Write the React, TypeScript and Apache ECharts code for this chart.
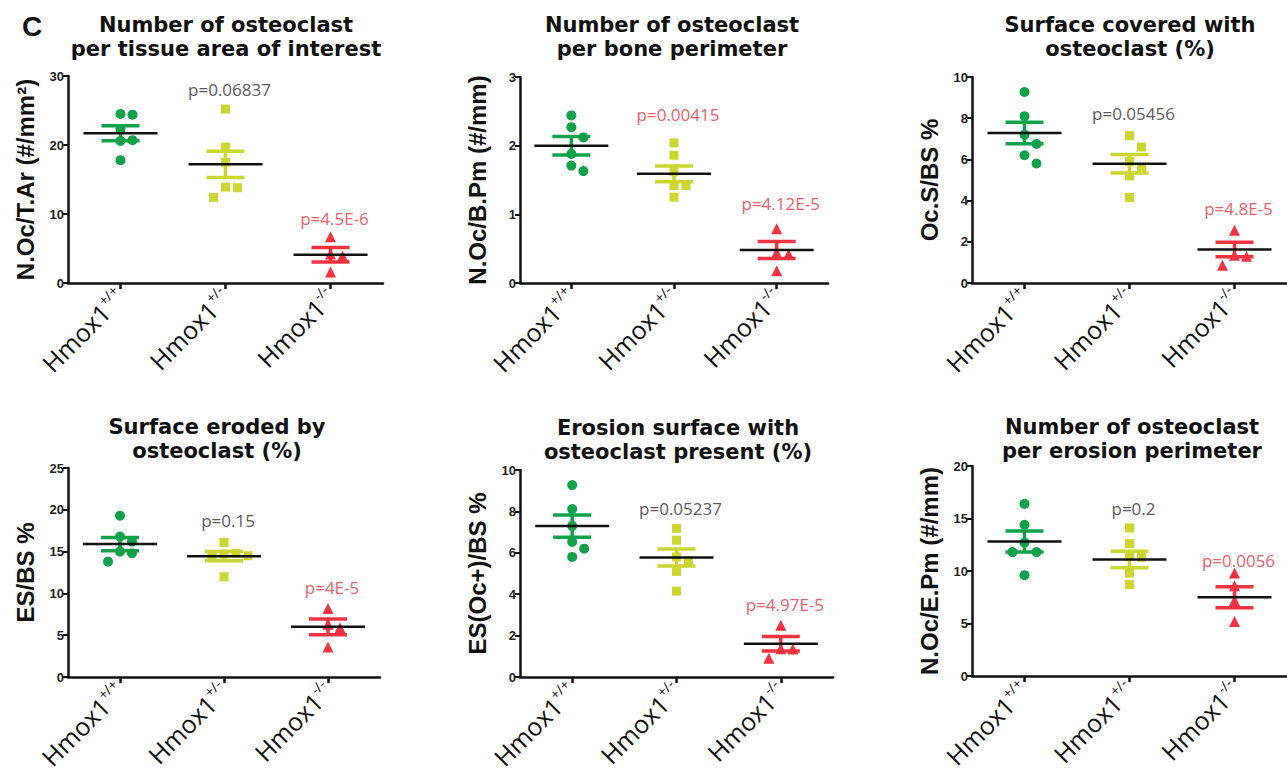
import React, { useEffect, useRef } from 'react';
import * as echarts from 'echarts';

// ---------- data ----------
const genotypes = ['+/+', '+/-', '-/-'];

// Panel 1: N.Oc/T.Ar
const nocTarWT = [24.5, 24.4, 22.3, 20.7, 20.6, 17.8];
const nocTarHet = [25.2, 19.7, 17.5, 13.9, 13.8, 12.4];
const nocTarKO = [6.7, 4.2, 3.9, 1.6];
const nocTarMean = [21.7, 17.2, 4.1];
const nocTarSem = [1.1, 1.9, 1.05];
const nocTarP = [0.06837, 4.5e-6];
const nocTarPAt = [28, 9.4];

// Panel 2: N.Oc/B.Pm
const nocBpmWT = [2.44, 2.27, 2.12, 1.88, 1.71, 1.63];
const nocBpmHet = [2.04, 1.86, 1.62, 1.42, 1.42, 1.25];
const nocBpmKO = [0.79, 0.44, 0.42, 0.18];
const nocBpmMean = [2.0, 1.59, 0.48];
const nocBpmSem = [0.135, 0.115, 0.125];
const nocBpmP = [0.00415, 4.12e-5];
const nocBpmPAt = [2.45, 1.16];

// Panel 3: Oc.S/BS
const ocsWT = [9.27, 8.1, 7.2, 6.75, 6.2, 5.8];
const ocsHet = [7.15, 6.6, 5.9, 5.6, 5.2, 4.15];
const ocsKO = [2.56, 1.35, 1.3, 0.86];
const ocsMean = [7.28, 5.79, 1.63];
const ocsSem = [0.52, 0.45, 0.35];
const ocsP = [0.05456, 4.8e-5];
const ocsPAt = [8.25, 3.64];

// Panel 4: ES/BS
const esWT = [19.3, 16.8, 16.2, 15.0, 14.8, 13.8];
const esHet = [16.1, 14.8, 14.7, 14.6, 14.5, 12.0];
const esKO = [8.2, 6.3, 5.9, 3.6];
const esMean = [15.9, 14.45, 6.0];
const esSem = [0.8, 0.55, 0.95];
const esP = [0.15, 4e-5];
const esPAt = [18.7, 10.7];

// Panel 5: ES(Oc+)/BS
const esOcWT = [9.27, 8.11, 7.3, 6.53, 6.2, 5.8];
const esOcHet = [7.18, 6.61, 5.8, 5.6, 5.1, 4.15];
const esOcKO = [2.5, 1.37, 1.35, 0.9];
const esOcMean = [7.29, 5.77, 1.61];
const esOcSem = [0.54, 0.41, 0.35];
const esOcP = [0.05237, 4.97e-5];
const esOcPAt = [8.16, 3.48];

// Panel 6: N.Oc/E.Pm
const nocEpmWT = [16.4, 14.4, 12.7, 11.8, 11.8, 9.6];
const nocEpmHet = [14.1, 12.6, 11.4, 11.3, 9.8, 8.7];
const nocEpmKO = [9.8, 8.6, 7.2, 5.2];
const nocEpmMean = [12.8, 11.1, 7.5];
const nocEpmSem = [1.0, 0.78, 1.0];
const nocEpmP = [0.2, 0.0056];
const nocEpmPAt = [16.0, 11.0];

const titles = [
  'Number of osteoclast\nper tissue area of interest',
  'Number of osteoclast\nper bone perimeter',
  'Surface covered with\nosteoclast (%)',
  'Surface eroded by\nosteoclast (%)',
  'Erosion surface with\nosteoclast present (%)',
  'Number of osteoclast\nper erosion perimeter',
];
const yNames = ['N.Oc/T.Ar (#/mm²)', 'N.Oc/B.Pm (#/mm)', 'Oc.S/BS %', 'ES/BS %', 'ES(Oc+)/BS %', 'N.Oc/E.Pm (#/mm)'];
const yMax = [30, 3, 10, 25, 10, 20];
const yStep = [10, 1, 2, 5, 2, 5];

// ---------- layout / style ----------
const grids = [
  { left: 68, top: 76, width: 315, height: 207 },
  { left: 520, top: 77, width: 308, height: 206 },
  { left: 972, top: 77, width: 315, height: 206 },
  { left: 68, top: 468, width: 312, height: 209 },
  { left: 520, top: 470, width: 313, height: 207 },
  { left: 972, top: 466, width: 315, height: 210 },
];
const titlePos = [
  [226, 13], [672, 13], [1130, 13], [217, 415], [678, 416], [1132, 415],
];
const groupColors = ['#10a14a', '#cbd631', '#ef3340'];
const groupSymbols = ['circle', 'rect', 'triangle'];
const groupSizes = [10, 9, 11];
const DARK = '#111';

function swarm(values: number[], pxPerUnit: number): number[] {
  const placed: { dx: number; y: number }[] = [];
  const step = 12;
  const thr = 11.5;
  const cands = [0, step, -step, 2 * step, -2 * step, 3 * step, -3 * step];
  return values.map((v) => {
    const y = v * pxPerUnit;
    for (const dx of cands) {
      if (placed.every((p) => Math.hypot(p.dx - dx, p.y - y) >= thr)) {
        placed.push({ dx, y });
        return dx;
      }
    }
    placed.push({ dx: 0, y });
    return 0;
  });
}

function fmtP(p: number): string {
  if (p < 0.001) return 'p=' + p.toExponential().replace('e', 'E').replace('+', '');
  return 'p=' + String(p);
}

const panels = [
  { groups: [nocTarWT, nocTarHet, nocTarKO], mean: nocTarMean, sem: nocTarSem, p: nocTarP, pAt: nocTarPAt },
  { groups: [nocBpmWT, nocBpmHet, nocBpmKO], mean: nocBpmMean, sem: nocBpmSem, p: nocBpmP, pAt: nocBpmPAt },
  { groups: [ocsWT, ocsHet, ocsKO], mean: ocsMean, sem: ocsSem, p: ocsP, pAt: ocsPAt },
  { groups: [esWT, esHet, esKO], mean: esMean, sem: esSem, p: esP, pAt: esPAt },
  { groups: [esOcWT, esOcHet, esOcKO], mean: esOcMean, sem: esOcSem, p: esOcP, pAt: esOcPAt },
  { groups: [nocEpmWT, nocEpmHet, nocEpmKO], mean: nocEpmMean, sem: nocEpmSem, p: nocEpmP, pAt: nocEpmPAt },
];

function buildOption() {
  const grid: any[] = [];
  const xAxis: any[] = [];
  const yAxis: any[] = [];
  const series: any[] = [];
  const graphic: any[] = [];

  graphic.push({
    type: 'text', x: 22, y: 12,
    style: { text: 'C', fontSize: 28, fontWeight: 'bold', fontFamily: 'Liberation Sans', fill: DARK },
  });

  panels.forEach((pn, i) => {
    const g = grids[i];
    grid.push({ ...g, containLabel: false });
    graphic.push({
      type: 'text', x: titlePos[i][0], y: titlePos[i][1],
      style: {
        text: titles[i], align: 'center', verticalAlign: 'top',
        fontSize: 21, fontWeight: 'bold', fontFamily: 'DejaVu Sans', lineHeight: 24, fill: DARK,
      },
    });
    xAxis.push({
      type: 'category', gridIndex: i, data: genotypes, boundaryGap: true,
      axisLine: { show: true, lineStyle: { color: DARK, width: 2.5 } },
      axisTick: { show: true, alignWithLabel: true, length: 6, lineStyle: { color: DARK, width: 2.5 } },
      axisLabel: {
        rotate: 45, margin: 10, interval: 0,
        formatter: (v: string) => `{m|Hmox1}{s|${v}}`,
        rich: {
          m: { fontSize: 25, fontFamily: 'Open Sans', color: DARK, lineHeight: 29 },
          s: { fontSize: 14, fontFamily: 'Open Sans', color: DARK, verticalAlign: 'top', lineHeight: 16 },
        },
      },
      splitLine: { show: false },
    });
    yAxis.push({
      type: 'value', gridIndex: i, min: 0, max: yMax[i], interval: yStep[i],
      name: yNames[i], nameLocation: 'middle', nameGap: 31,
      nameTextStyle: { fontSize: 24, fontWeight: 'bold', fontFamily: 'Liberation Sans', color: DARK },
      axisLine: { show: true, lineStyle: { color: DARK, width: 2.5 } },
      axisTick: { show: true, length: 5, lineStyle: { color: DARK, width: 2 } },
      axisLabel: { fontSize: 13, fontWeight: 'bold', fontFamily: 'Liberation Sans', color: '#222', margin: 4 },
      splitLine: { show: false },
    });
    const pxPerUnit = g.height / yMax[i];
    pn.groups.forEach((vals, gi) => {
      const offs = swarm(vals, pxPerUnit);
      series.push({
        type: 'scatter', xAxisIndex: i, yAxisIndex: i, z: 2,
        symbol: groupSymbols[gi], symbolSize: groupSizes[gi],
        itemStyle: { color: groupColors[gi], opacity: 1 },
        data: vals.map((v, k) => ({ value: [gi, v], symbolOffset: [offs[k], 0] })),
      });
    });
    series.push({
      type: 'custom', xAxisIndex: i, yAxisIndex: i, z: 3,
      data: pn.mean.map((m, gi) => [gi, m, pn.sem[gi]]),
      renderItem: (params: any, api: any) => {
        const cat = api.value(0);
        const m = api.value(1);
        const s = api.value(2);
        const c = api.coord([cat, m]);
        const hi = api.coord([cat, m + s]);
        const lo = api.coord([cat, m - s]);
        const col = groupColors[params.dataIndex];
        const semStyle = { stroke: col, lineWidth: 3.5 };
        return {
          type: 'group',
          children: [
            { type: 'line', shape: { x1: c[0], y1: hi[1], x2: c[0], y2: lo[1] }, style: semStyle },
            { type: 'line', shape: { x1: c[0] - 19, y1: hi[1], x2: c[0] + 19, y2: hi[1] }, style: semStyle },
            { type: 'line', shape: { x1: c[0] - 19, y1: lo[1], x2: c[0] + 19, y2: lo[1] }, style: semStyle },
            { type: 'line', shape: { x1: c[0] - 37, y1: c[1], x2: c[0] + 37, y2: c[1] }, style: { stroke: DARK, lineWidth: 2.5 } },
          ],
        };
      },
    });
    series.push({
      type: 'scatter', xAxisIndex: i, yAxisIndex: i, z: 4, symbolSize: 1,
      itemStyle: { color: 'transparent' },
      data: pn.p.map((p, k) => ({
        name: fmtP(p),
        value: [k + 1, pn.pAt[k]],
        label: { color: p < 0.05 ? '#ee2f3c' : '#2a2a2a' },
      })),
      label: {
        show: true, position: 'inside', formatter: '{b}', offset: [4, 0],
        fontSize: 17, fontFamily: 'Open Sans',
      },
    });
  });

  return { animation: false, backgroundColor: '#fff', grid, xAxis, yAxis, series, graphic };
}

export default function App() {
  const ref = useRef<HTMLDivElement>(null);
  useEffect(() => {
    if (!ref.current) return;
    const chart = echarts.init(ref.current, undefined, { renderer: 'svg' });
    chart.setOption(buildOption() as any);
    return () => chart.dispose();
  }, []);
  return <div ref={ref} style={{ position: 'absolute', left: 0, top: 0, width: 1287, height: 781 }} />;
}
